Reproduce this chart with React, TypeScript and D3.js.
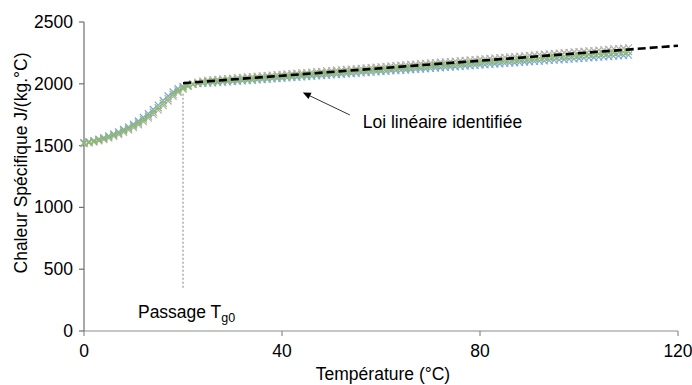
import React from "react";
import * as d3 from "d3";

const temps: number[] = d3.range(0, 111);

const serieBlue: number[] = [
  1524, 1531, 1540, 1551, 1564, 1578, 1594, 1611, 1630, 1651, 1674, 1699, 1727, 1758, 1792, 1828, 1865, 1901, 1934, 1960,
  1978, 1990, 1997, 2001, 2003, 2005, 2008, 2010, 2013, 2016, 2018, 2021, 2024, 2026, 2029, 2032, 2034, 2037, 2040, 2042,
  2045, 2048, 2050, 2053, 2056, 2058, 2061, 2064, 2066, 2069, 2072, 2074, 2077, 2080, 2082, 2085, 2088, 2090, 2093, 2096,
  2098, 2101, 2104, 2106, 2109, 2112, 2114, 2117, 2120, 2122, 2125, 2128, 2130, 2133, 2136, 2138, 2141, 2144, 2146, 2149,
  2152, 2154, 2157, 2160, 2162, 2165, 2168, 2170, 2173, 2176, 2178, 2181, 2184, 2186, 2189, 2192, 2194, 2197, 2200, 2202,
  2205, 2208, 2210, 2213, 2216, 2218, 2221, 2224, 2226, 2229, 2232,
];

const serieGreen: number[] = [
  1520, 1527, 1535, 1545, 1557, 1570, 1585, 1601, 1619, 1639, 1660, 1684, 1710, 1739, 1771, 1806, 1843, 1880, 1914, 1943,
  1964, 1982, 1995, 2004, 2010, 2015, 2018, 2021, 2024, 2027, 2030, 2033, 2036, 2039, 2042, 2045, 2048, 2050, 2053, 2056,
  2059, 2062, 2065, 2068, 2071, 2073, 2076, 2079, 2082, 2085, 2088, 2091, 2093, 2096, 2099, 2102, 2105, 2108, 2111, 2114,
  2116, 2119, 2122, 2125, 2128, 2131, 2134, 2136, 2139, 2142, 2145, 2148, 2151, 2154, 2156, 2159, 2162, 2165, 2168, 2171,
  2174, 2177, 2179, 2182, 2185, 2188, 2191, 2194, 2197, 2200, 2202, 2205, 2208, 2211, 2214, 2217, 2220, 2222, 2225, 2228,
  2231, 2234, 2237, 2240, 2243, 2245, 2248, 2251, 2254, 2257, 2260,
];

const serieGray: number[] = [
  1516, 1522, 1529, 1538, 1549, 1561, 1575, 1590, 1607, 1626, 1646, 1669, 1694, 1722, 1753, 1787, 1823, 1861, 1898, 1931,
  1957, 1980, 1999, 2013, 2023, 2030, 2033, 2036, 2039, 2042, 2045, 2049, 2052, 2055, 2058, 2061, 2064, 2067, 2070, 2073,
  2076, 2079, 2082, 2085, 2088, 2091, 2095, 2098, 2101, 2104, 2107, 2110, 2113, 2116, 2119, 2122, 2125, 2128, 2131, 2134,
  2137, 2141, 2144, 2147, 2150, 2153, 2156, 2159, 2162, 2165, 2168, 2171, 2174, 2177, 2180, 2183, 2187, 2190, 2193, 2196,
  2199, 2202, 2205, 2208, 2211, 2214, 2217, 2220, 2223, 2226, 2229, 2233, 2236, 2239, 2242, 2245, 2248, 2251, 2254, 2257,
  2260, 2263, 2266, 2269, 2272, 2275, 2279, 2282, 2285, 2288, 2291,
];

const linearLawT: number[] = [20, 120];
const linearLawCp: number[] = [2005, 2308];

const xTicks: number[] = [0, 40, 80, 120];
const yTicks: number[] = [0, 500, 1000, 1500, 2000, 2500];

const tg0 = 20;
const tg0LineCp: number[] = [350, 1930];

const FONT = "'Liberation Sans', Arimo, Arial, Helvetica, sans-serif";

export default function App() {
  const W = 692;
  const H = 385;
  const x = d3.scaleLinear().domain([0, 120]).range([84, 678]);
  const y = d3.scaleLinear().domain([0, 2500]).range([331, 22]);

  const series = [
    { vals: serieGray, color: "#b0b0b0" },
    { vals: serieBlue, color: "#7ea7d6" },
    { vals: serieGreen, color: "#8fbb5e" },
  ];

  const lawLine = d3
    .line<number>()
    .x((_, i) => x(linearLawT[i]))
    .y((d) => y(d))(linearLawCp);

  const m = 3.5;
  const cross = (cx: number, cy: number) =>
    `M${cx - m},${cy - m}L${cx + m},${cy + m}M${cx - m},${cy + m}L${cx + m},${cy - m}`;

  const arrowFrom = [53.7, 1748];
  const arrowTo = [44.2, 1930];
  const ax1 = x(arrowFrom[0]), ay1 = y(arrowFrom[1]);
  const ax2 = x(arrowTo[0]), ay2 = y(arrowTo[1]);
  const ang = Math.atan2(ay2 - ay1, ax2 - ax1);
  const hl = 8, hw = 3.5;
  const bx = ax2 - hl * Math.cos(ang), by = ay2 - hl * Math.sin(ang);
  const head = `M${ax2},${ay2}L${bx + hw * Math.sin(ang)},${by - hw * Math.cos(ang)}L${bx - hw * Math.sin(ang)},${by + hw * Math.cos(ang)}Z`;

  const ts: React.CSSProperties = { fontFamily: FONT, fontSize: 17.5 };

  return (
    <svg width={W} height={H} style={{ position: "absolute", left: 0, top: 0, background: "#fff", fontFamily: FONT }}>
      <line x1={x(0)} x2={x(120)} y1={y(0)} y2={y(0)} stroke="#8c8c8c" strokeWidth={1.2} />
      <line x1={x(0)} x2={x(0)} y1={y(0)} y2={y(2500)} stroke="#6e6e6e" strokeWidth={1.2} />
      {xTicks.map((t) => (
        <g key={"xt" + t}>
          <line x1={x(t)} x2={x(t)} y1={y(0)} y2={y(0) + 5} stroke="#8c8c8c" strokeWidth={1.2} />
          <text x={x(t)} y={357} textAnchor="middle" style={ts} fill="#000">
            {t}
          </text>
        </g>
      ))}
      {yTicks.map((t) => (
        <g key={"yt" + t}>
          <line x1={x(0) - 5} x2={x(0)} y1={y(t)} y2={y(t)} stroke="#6e6e6e" strokeWidth={1.2} />
          <text x={73} y={y(t) + 6} textAnchor="end" style={ts} fill="#000">
            {t}
          </text>
        </g>
      ))}
      <text x={383} y={380} textAnchor="middle" style={ts} fill="#000">
        Température (°C)
      </text>
      <text transform={`translate(27,${163}) rotate(-90)`} textAnchor="middle" style={ts} fill="#000">
        Chaleur Spécifique J/(kg.°C)
      </text>

      <line
        x1={x(tg0)}
        x2={x(tg0)}
        y1={y(tg0LineCp[0])}
        y2={y(tg0LineCp[1])}
        stroke="#808080"
        strokeWidth={1}
        strokeDasharray="2,2"
      />

      {series.map((s, si) => (
        <path
          key={si}
          d={s.vals.map((v, i) => cross(x(temps[i]), y(v))).join("")}
          stroke={s.color}
          strokeWidth={1.2}
          fill="none"
        />
      ))}

      <path d={lawLine || ""} stroke="#000" strokeWidth={2.6} strokeDasharray="8,4" fill="none" />

      <line x1={ax1} y1={ay1} x2={bx} y2={by} stroke="#333" strokeWidth={1} />
      <path d={head} fill="#000" />
      <text x={x(56.3)} y={y(1645)} style={ts} fill="#000">
        Loi linéaire identifiée
      </text>
      <text x={x(10.9)} y={y(105)} style={ts} fill="#000">
        Passage T<tspan style={{ fontSize: 12.5 }} dy={4}>g0</tspan>
      </text>
    </svg>
  );
}
